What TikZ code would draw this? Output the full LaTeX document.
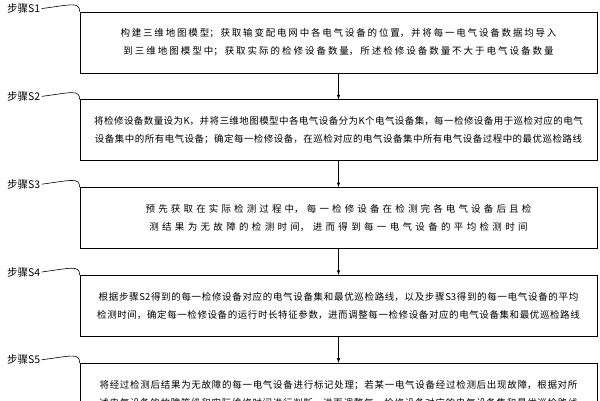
\documentclass[tikz,border=0pt]{standalone}
\usepackage{fontspec}
\setmainfont{Noto Sans CJK SC}
\XeTeXlinebreaklocale "zh"
\XeTeXlinebreakskip=0pt plus 1pt
\usetikzlibrary{positioning}

\begin{document}
\begin{tikzpicture}[x=1pt,y=-1pt,->,>=latex,semithick,
  stepbox/.style={draw,thick,fill=white,minimum width=517pt,minimum height=61pt,text width=505pt,align=center,font=\fontsize{9.5}{18}\selectfont,inner sep=0pt},
  lab/.style={font=\fontsize{10.5}{11}\selectfont,inner sep=1pt}]
  \useasboundingbox (0,0) rectangle (600,400);
  \node[stepbox] (s1) at (338.5,42.5) {构建三维地图模型；获取输变配电网中各电气设备的位置，并将每一电气设备数据均导入到三维地图模型中；获取实际的检修设备数量，所述检修设备数量不大于电气设备数量};
  \node[stepbox,below=26pt of s1] (s2) {将检修设备数量设为K，并将三维地图模型中各电气设备分为K个电气设备集，每一检修设备用于巡检对应的电气设备集中的所有电气设备；确定每一检修设备，在巡检对应的电气设备集中所有电气设备过程中的最优巡检路线};
  \node[stepbox,below=26pt of s2] (s3) {预先获取在实际检测过程中，每一检修设备在检测完各电气设备后且检测结果为无故障的检测时间，进而得到每一电气设备的平均检测时间};
  \node[stepbox,below=26pt of s3] (s4) {根据步骤S2得到的每一检修设备对应的电气设备集和最优巡检路线，以及步骤S3得到的每一电气设备的平均检测时间，确定每一检修设备的运行时长特征参数，进而调整每一检修设备对应的电气设备集和最优巡检路线};
  \node[stepbox,below=26pt of s4] (s5) {将经过检测后结果为无故障的每一电气设备进行标记处理；若某一电气设备经过检测后出现故障，根据对所述电气设备的故障等级和实际维修时间进行判断，进而调整每一检修设备对应的电气设备集和最优巡检路线};

  \foreach \i/\j in {1/2,2/3,3/4,4/5}
    \draw (s\i) -- (s\j);

  \foreach \i in {1,...,5} {
    \node[lab,anchor=east] (l\i) at ([xshift=-38pt,yshift=3pt]s\i.north west) {步骤S\i};
    \draw[-] (l\i.east) .. controls +(30,-4) and +(0,-10) .. (s\i.north west);
  }
\end{tikzpicture}
\end{document}
